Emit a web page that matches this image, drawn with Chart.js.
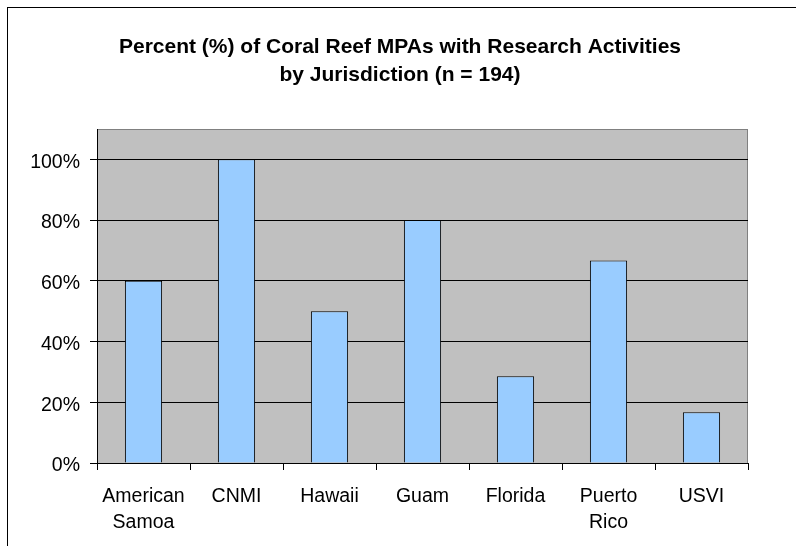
<!DOCTYPE html>
<html>
<head>
<meta charset="utf-8">
<script src="https://cdn.jsdelivr.net/npm/chart.js@4.4.0/dist/chart.umd.min.js"></script>
<style>
  html, body { margin: 0; padding: 0; background: #fff; }
  #wrap { width: 796px; height: 546px; }
</style>
</head>
<body>
<div id="wrap"><canvas id="chart" width="796" height="546"></canvas></div>
<script>
// Research activities by jurisdiction
const categories = [['American', 'Samoa'], 'CNMI', 'Hawaii', 'Guam', 'Florida', ['Puerto', 'Rico'], 'USVI'];
const percentValues = [60, 100, 50, 80, 28.6, 66.7, 16.7];
const yTicks = [0, 20, 40, 60, 80, 100];
const titleLines = ['Percent (%) of Coral Reef MPAs with Research Activities', 'by Jurisdiction (n = 194)'];

const FONT = "'Liberation Sans', Arial, sans-serif";

// gray plot background, plot frame and the outer chart frame
const framePlugin = {
    id: 'frame',
    beforeDraw(chart) {
        const ctx = chart.ctx;
        const a = chart.chartArea;
        ctx.save();
        ctx.fillStyle = '#fff';
        ctx.fillRect(0, 0, chart.width, chart.height);
        ctx.strokeStyle = '#000';
        ctx.lineWidth = 1;
        ctx.strokeRect(7.5, 7.5, chart.width + 20, chart.height + 20);
        ctx.fillStyle = '#c0c0c0';
        ctx.fillRect(a.left, a.top, a.right - a.left, a.bottom - a.top);
        ctx.strokeStyle = '#808080';
        ctx.strokeRect(a.left + 0.5, a.top + 0.5, a.right - a.left - 1, a.bottom - a.top);
        ctx.restore();
    }
};

// two-line title, centred on the whole chart frame
const titlePlugin = {
    id: 'twoLineTitle',
    afterDraw(chart) {
        const ctx = chart.ctx;
        ctx.save();
        ctx.fillStyle = '#000';
        ctx.font = 'bold 21px ' + FONT;
        ctx.textAlign = 'center';
        ctx.textBaseline = 'alphabetic';
        titleLines.forEach((line, i) => ctx.fillText(line, 400, 53 + i * 28));
        ctx.restore();
    }
};

const ctx = document.getElementById('chart').getContext('2d');
const chart = new Chart(ctx, {
    type: 'bar',
    data: {
        labels: categories,
        datasets: [{
            label: 'Percent',
            data: percentValues,
            backgroundColor: '#99ccff',
            borderColor: '#000',
            borderWidth: 1,
            categoryPercentage: 1,
            barPercentage: 0.4
        }]
    },
    options: {
        responsive: false,
        animation: false,
        layout: { padding: { left: 0, right: 48, top: 129, bottom: 0 } },
        plugins: {
            legend: { display: false },
            tooltip: { enabled: false },
            title: { display: false }
        },
        scales: {
            x: {
                grid: { offset: true, drawOnChartArea: false, color: '#000', tickLength: 7 },
                border: { color: '#000' },
                ticks: {
                    color: '#000',
                    maxRotation: 0,
                    autoSkip: false,
                    padding: 13,
                    font: { family: FONT, size: 19.5, lineHeight: 1.35 }
                },
                afterFit(scale) { scale.height = 83; }
            },
            y: {
                min: 0,
                max: 110,
                grid: { color: '#000', tickLength: 7 },
                border: { color: '#000' },
                ticks: {
                    color: '#000',
                    padding: 10,
                    labelOffset: 3,
                    font: { family: FONT, size: 19.5 },
                    callback: v => v + '%'
                },
                afterBuildTicks(scale) { scale.ticks = yTicks.map(v => ({ value: v })); },
                afterFit(scale) { scale.width = 97; }
            }
        }
    },
    plugins: [framePlugin, titlePlugin]
});
</script>
</body>
</html>
